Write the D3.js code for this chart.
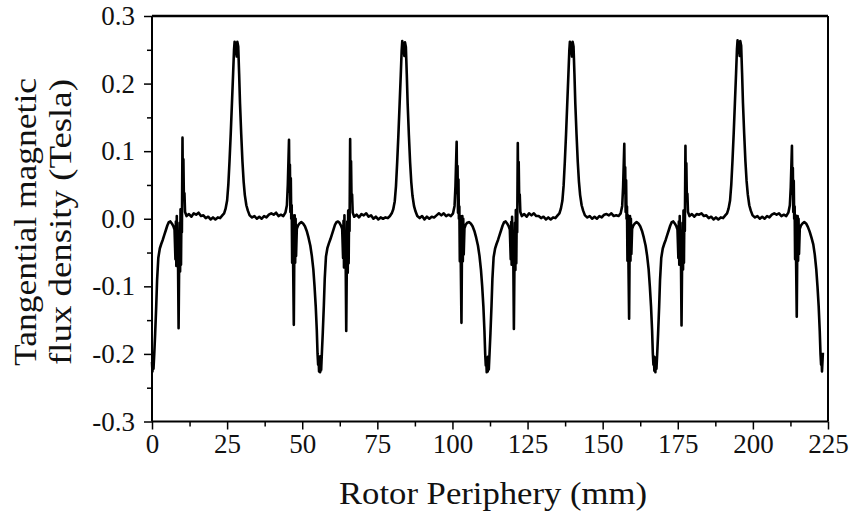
<!DOCTYPE html>
<meta charset="utf-8">
<style>

body {
    margin: 0;
    padding: 0;
    background: #fff;
}

.axis line {
    stroke: #000;
    stroke-width: 1.5px;
}

.curve {
    fill: none;
    stroke: #000;
    stroke-width: 2.6px;
    stroke-linejoin: round;
}

</style>
<svg width="852" height="516"></svg>

<script src="https://cdn.jsdelivr.net/npm/d3@7/dist/d3.min.js"></script>

<script>
var SERIF = "'Liberation Serif', monospace";

// Tick values
var xTicks = [0, 25, 50, 75, 100, 125, 150, 175, 200, 225];
var xMinor = [12.5, 37.5, 62.5, 87.5, 112.5, 137.5, 162.5, 187.5, 212.5];
var yTicks = [-0.3, -0.2, -0.1, 0.0, 0.1, 0.2, 0.3];
var yMinor = [-0.25, -0.15, -0.05, 0.05, 0.15, 0.25];

// [rotor periphery (mm), tangential flux density (T)], one array per pole pair
var pole1 = [
  [0,-0.212],[0.15,-0.226],[0.3,-0.205],[0.5,-0.222],[0.75,-0.2],[1.05,-0.17],[1.4,-0.13],[1.7,-0.09],[2.1,-0.058],[2.6,-0.044],
  [3.1,-0.037],[3.6,-0.031],[4.1,-0.024],[4.6,-0.017],[5.1,-0.01],[5.6,-0.005],[6.1,-0.004],[6.6,-0.007],[7.1,-0.011],[7.5,-0.016],
  [7.8,-0.06],[7.95,-0.004],[8.1,-0.07],[8.25,0.004],[8.4,-0.058],[8.6,-0.03],[8.85,-0.162],[9.05,-0.06],[9.2,-0.006],[9.35,-0.078],
  [9.5,0.014],[9.65,-0.068],[9.8,0.01],[9.95,-0.02],[10.15,0.12],[10.3,0.03],[10.45,0.088],[10.6,0.036],[10.8,0.038],[11.0,0.01],
  [11.5,0.004],[12.3,0.007],[13.1,0.003],[13.9,0.008],[14.7,0.006],[15.5,0.009],[16.3,0.004],[17.1,0.005],[17.9,0.001],[18.7,0.003],
  [19.5,-0.001],[20.3,0.002],[21.1,-0.001],[21.9,0.002],[22.7,0.001],[23.4,0.005],[24.0,0.008],
  [24.5,0.015],[25.0,0.027],[25.4,0.05],[25.8,0.085],[26.2,0.125],[26.6,0.17],[27.0,0.215],[27.3,0.25],[27.5,0.262],[27.8,0.244],
  [28.0,0.25],[28.2,0.24],[28.4,0.262],[28.7,0.255],[29.0,0.215],[29.3,0.17],[29.7,0.125],[30.1,0.085],[30.5,0.055],[30.9,0.035],
  [31.4,0.02],[31.9,0.012],
  [32.5,0.005],[33.3,0.002],[34.1,0.004],[34.9,0.0],[35.7,0.003],[36.5,0.0],[37.3,0.004],[38.1,0.002],[38.9,0.006],[39.7,0.008],
  [40.5,0.006],[41.3,0.009],[42.1,0.004],[42.9,0.006],[43.7,0.004],[44.4,0.009],[44.9,0.02],
  [45.2,0.05],[45.6,0.117],[45.75,0.04],[45.9,0.08],[46.05,0.01],[46.2,0.06],[46.35,0.0],[46.5,0.02],[46.65,-0.065],[46.8,0.005],
  [47.2,-0.157],[47.35,-0.06],[47.5,0.005],[47.65,-0.065],[47.8,0.0],[47.95,-0.055],[48.2,-0.015],[48.6,-0.01],
  [49.1,-0.007],[49.7,-0.005],[50.3,-0.007],[50.9,-0.011],[51.5,-0.018],[52.1,-0.028],[52.7,-0.04],[53.2,-0.055],[53.7,-0.075],[54.1,-0.1],
  [54.5,-0.13],[54.85,-0.165],[55.1,-0.2],[55.3,-0.216],[55.45,-0.204],[55.6,-0.226]
];

var pole2 = [
  [55.8,-0.21],[55.95,-0.227],[56.1,-0.203],[56.3,-0.224],[56.55,-0.198],[56.85,-0.168],[57.2,-0.128],[57.5,-0.088],[57.9,-0.056],[58.4,-0.043],
  [58.9,-0.036],[59.4,-0.03],[59.9,-0.023],[60.4,-0.016],[60.9,-0.009],[61.4,-0.005],[61.9,-0.004],[62.4,-0.006],[62.9,-0.01],[63.3,-0.015],
  [63.6,-0.058],[63.75,-0.003],[63.9,-0.072],[64.05,0.005],[64.2,-0.06],[64.4,-0.028],[64.65,-0.166],[64.85,-0.062],[65.0,-0.004],[65.15,-0.08],
  [65.3,0.012],[65.45,-0.066],[65.6,0.008],[65.75,-0.018],[65.95,0.118],[66.1,0.028],[66.25,0.085],[66.4,0.034],[66.6,0.036],[66.8,0.009],
  [67.3,0.003],[68.1,0.006],[68.9,0.002],[69.7,0.007],[70.5,0.005],[71.3,0.008],[72.1,0.003],[72.9,0.005],[73.7,0.0],[74.5,0.003],
  [75.3,-0.001],[76.1,0.002],[76.9,0.0],[77.7,0.002],[78.5,0.001],[79.2,0.004],[79.8,0.008],
  [80.3,0.014],[80.8,0.026],[81.2,0.048],[81.6,0.083],[82.0,0.123],[82.4,0.168],[82.8,0.213],[83.1,0.249],[83.3,0.263],[83.6,0.245],
  [83.8,0.252],[84.0,0.241],[84.2,0.261],[84.5,0.254],[84.8,0.214],[85.1,0.169],[85.5,0.124],[85.9,0.084],[86.3,0.054],[86.7,0.034],
  [87.2,0.019],[87.7,0.011],
  [88.3,0.004],[89.1,0.001],[89.9,0.004],[90.7,-0.001],[91.5,0.003],[92.3,0.0],[93.1,0.003],[93.9,0.002],[94.7,0.005],[95.5,0.008],
  [96.3,0.005],[97.1,0.008],[97.9,0.004],[98.7,0.006],[99.5,0.004],[100.2,0.008],[100.7,0.019],
  [101.0,0.048],[101.4,0.114],[101.55,0.038],[101.7,0.078],[101.85,0.009],[102.0,0.058],[102.15,0.0],[102.3,0.018],[102.45,-0.063],[102.6,0.004],
  [103.0,-0.154],[103.15,-0.058],[103.3,0.004],[103.45,-0.063],[103.6,0.0],[103.75,-0.053],[104.0,-0.014],[104.4,-0.009],
  [104.9,-0.006],[105.5,-0.005],[106.1,-0.007],[106.7,-0.011],[107.3,-0.018],[107.9,-0.028],[108.5,-0.04],[109.0,-0.055],[109.5,-0.076],[109.9,-0.1],
  [110.3,-0.13],[110.65,-0.166],[110.9,-0.2],[111.1,-0.217],[111.25,-0.205],[111.4,-0.227]
];

var pole3 = [
  [111.6,-0.211],[111.75,-0.226],[111.9,-0.204],[112.1,-0.223],[112.35,-0.199],[112.65,-0.169],[113.0,-0.129],[113.3,-0.089],[113.7,-0.057],[114.2,-0.044],
  [114.7,-0.037],[115.2,-0.031],[115.7,-0.024],[116.2,-0.017],[116.7,-0.01],[117.2,-0.005],[117.7,-0.004],[118.2,-0.007],[118.7,-0.011],[119.1,-0.016],
  [119.4,-0.06],[119.55,-0.005],[119.7,-0.068],[119.85,0.003],[120.0,-0.057],[120.2,-0.03],[120.45,-0.163],[120.65,-0.06],[120.8,-0.006],[120.95,-0.076],
  [121.1,0.013],[121.25,-0.066],[121.4,0.009],[121.55,-0.02],[121.75,0.112],[121.9,0.028],[122.05,0.084],[122.2,0.035],[122.4,0.036],[122.6,0.01],
  [123.1,0.004],[123.9,0.007],[124.7,0.003],[125.5,0.008],[126.3,0.005],[127.1,0.008],[127.9,0.004],[128.7,0.004],[129.5,0.001],[130.3,0.003],
  [131.1,-0.001],[131.9,0.002],[132.7,-0.001],[133.5,0.002],[134.3,0.001],[135.0,0.005],[135.6,0.008],
  [136.1,0.015],[136.6,0.027],[137.0,0.049],[137.4,0.084],[137.8,0.124],[138.2,0.169],[138.6,0.214],[138.9,0.249],[139.1,0.262],[139.4,0.245],
  [139.6,0.25],[139.8,0.24],[140.0,0.262],[140.3,0.255],[140.6,0.215],[140.9,0.17],[141.3,0.125],[141.7,0.085],[142.1,0.055],[142.5,0.035],
  [143.0,0.02],[143.5,0.012],
  [144.1,0.005],[144.9,0.002],[145.7,0.004],[146.5,0.0],[147.3,0.003],[148.1,0.0],[148.9,0.004],[149.7,0.002],[150.5,0.006],[151.3,0.007],
  [152.1,0.005],[152.9,0.008],[153.7,0.004],[154.5,0.005],[155.3,0.004],[156.0,0.008],[156.5,0.019],
  [156.8,0.047],[157.2,0.111],[157.35,0.038],[157.5,0.076],[157.65,0.01],[157.8,0.057],[157.95,0.0],[158.1,0.018],[158.25,-0.062],[158.4,0.005],
  [158.8,-0.148],[158.95,-0.058],[159.1,0.004],[159.25,-0.062],[159.4,0.0],[159.55,-0.052],[159.8,-0.015],[160.2,-0.01],
  [160.7,-0.007],[161.3,-0.005],[161.9,-0.007],[162.5,-0.011],[163.1,-0.018],[163.7,-0.028],[164.3,-0.04],[164.8,-0.055],[165.3,-0.075],[165.7,-0.1],
  [166.1,-0.13],[166.45,-0.165],[166.7,-0.2],[166.9,-0.216],[167.05,-0.204],[167.2,-0.225]
];

var pole4 = [
  [167.4,-0.212],[167.55,-0.227],[167.7,-0.205],[167.9,-0.222],[168.15,-0.2],[168.45,-0.17],[168.8,-0.13],[169.1,-0.09],[169.5,-0.058],[170.0,-0.044],
  [170.5,-0.037],[171.0,-0.031],[171.5,-0.024],[172.0,-0.017],[172.5,-0.01],[173.0,-0.005],[173.5,-0.004],[174.0,-0.007],[174.5,-0.011],[174.9,-0.016],
  [175.2,-0.058],[175.35,-0.004],[175.5,-0.068],[175.65,0.004],[175.8,-0.056],[176.0,-0.03],[176.25,-0.158],[176.45,-0.058],[176.6,-0.006],[176.75,-0.075],
  [176.9,0.012],[177.05,-0.065],[177.2,0.01],[177.35,-0.018],[177.55,0.108],[177.7,0.03],[177.85,0.082],[178.0,0.035],[178.2,0.037],[178.4,0.01],
  [178.9,0.004],[179.7,0.007],[180.5,0.003],[181.3,0.007],[182.1,0.006],[182.9,0.008],[183.7,0.004],[184.5,0.005],[185.3,0.001],[186.1,0.003],
  [186.9,-0.001],[187.7,0.002],[188.5,-0.001],[189.3,0.002],[190.1,0.001],[190.8,0.005],[191.4,0.008],
  [191.9,0.015],[192.4,0.027],[192.8,0.05],[193.2,0.085],[193.6,0.125],[194.0,0.17],[194.4,0.215],[194.7,0.251],[194.9,0.264],[195.2,0.246],
  [195.4,0.252],[195.6,0.241],[195.8,0.263],[196.1,0.256],[196.4,0.216],[196.7,0.171],[197.1,0.126],[197.5,0.086],[197.9,0.056],[198.3,0.036],
  [198.8,0.02],[199.3,0.012],
  [199.9,0.005],[200.7,0.002],[201.5,0.004],[202.3,0.0],[203.1,0.003],[203.9,0.0],[204.7,0.004],[205.5,0.002],[206.3,0.006],[207.1,0.008],
  [207.9,0.006],[208.7,0.008],[209.5,0.004],[210.3,0.006],[211.1,0.004],[211.8,0.009],[212.3,0.02],
  [212.6,0.046],[213.0,0.108],[213.15,0.037],[213.3,0.075],[213.45,0.01],[213.6,0.056],[213.75,0.0],[213.9,0.018],[214.05,-0.06],[214.2,0.005],
  [214.6,-0.145],[214.75,-0.058],[214.9,0.004],[215.05,-0.062],[215.2,0.0],[215.35,-0.052],[215.6,-0.015],[216.0,-0.01],
  [216.5,-0.007],[217.1,-0.005],[217.7,-0.007],[218.3,-0.012],[218.9,-0.019],[219.5,-0.028],[220.1,-0.038],[220.6,-0.053],[221.1,-0.075],[221.5,-0.1],
  [221.9,-0.13],[222.25,-0.166],[222.5,-0.2],[222.7,-0.216],[222.85,-0.205],[223.0,-0.226],[223.3,-0.198]
];

var svg = d3.select("svg"),
    margin = {top: 16, right: 24, bottom: 94.5, left: 152},
    width = +svg.attr("width") - margin.left - margin.right,
    height = +svg.attr("height") - margin.top - margin.bottom;

var g = svg.append("g").attr("transform", "translate(" + margin.left + "," + margin.top + ")");

var x = d3.scaleLinear().domain([0, 225]).range([0, width]);
var y = d3.scaleLinear().domain([-0.3, 0.3]).range([height, 0]);

var fmtY = function(d) { return d3.format(".1f")(d).replace("\u2212", "-"); };

// styles the tick labels of an axis group
function tickText(s) {
    s.select(".domain").remove();
    s.attr("font-family", null).attr("font-size", null);
    s.selectAll("text")
        .style("font-family", SERIF)
        .style("font-size", "27px")
        .attr("fill", "#111");
}

// minor ticks
g.append("g").attr("class", "axis")
    .attr("transform", "translate(0," + height + ")")
    .call(d3.axisBottom(x).tickValues(xMinor).tickSize(5).tickFormat(""))
    .call(function(s) { s.select(".domain").remove(); });
g.append("g").attr("class", "axis")
    .call(d3.axisLeft(y).tickValues(yMinor).tickSize(5).tickFormat(""))
    .call(function(s) { s.select(".domain").remove(); });

// major ticks + labels
g.append("g").attr("class", "axis")
    .attr("transform", "translate(0," + height + ")")
    .call(d3.axisBottom(x).tickValues(xTicks).tickSize(8).tickPadding(4))
    .call(tickText);
g.append("g").attr("class", "axis")
    .call(d3.axisLeft(y).tickValues(yTicks).tickSize(8).tickPadding(9).tickFormat(fmtY))
    .call(tickText);

// frame
g.append("line").attr("x1", 0).attr("x2", width).attr("y1", 0).attr("y2", 0)
    .attr("stroke", "#000").attr("stroke-width", 2.6);
g.append("line").attr("x1", width).attr("x2", width).attr("y1", 0).attr("y2", height)
    .attr("stroke", "#000").attr("stroke-width", 2);
g.append("line").attr("x1", 0).attr("x2", width).attr("y1", height).attr("y2", height)
    .attr("stroke", "#000").attr("stroke-width", 2);
g.append("line").attr("x1", 0).attr("x2", 0).attr("y1", 0).attr("y2", height)
    .attr("stroke", "#000").attr("stroke-width", 2);

// curve
var line = d3.line()
    .x(function(d) { return x(d[0]); })
    .y(function(d) { return y(d[1]); });

g.append("path")
    .datum(pole1.concat(pole2, pole3, pole4))
    .attr("class", "curve")
    .attr("d", line);

// axis titles
function title(sel, txt, len) {
    sel.attr("text-anchor", "middle")
        .style("font-family", SERIF)
        .style("font-size", "31px")
        .attr("fill", "#111")
        .attr("textLength", len)
        .attr("lengthAdjust", "spacingAndGlyphs")
        .text(txt);
}

svg.append("text")
    .attr("x", 493).attr("y", 504)
    .call(title, "Rotor Periphery (mm)", 308);

svg.append("text")
    .attr("transform", "translate(36,222) rotate(-90)")
    .call(title, "Tangential magnetic", 288);

svg.append("text")
    .attr("transform", "translate(71,222) rotate(-90)")
    .call(title, "flux density (Tesla)", 286);
</script>
